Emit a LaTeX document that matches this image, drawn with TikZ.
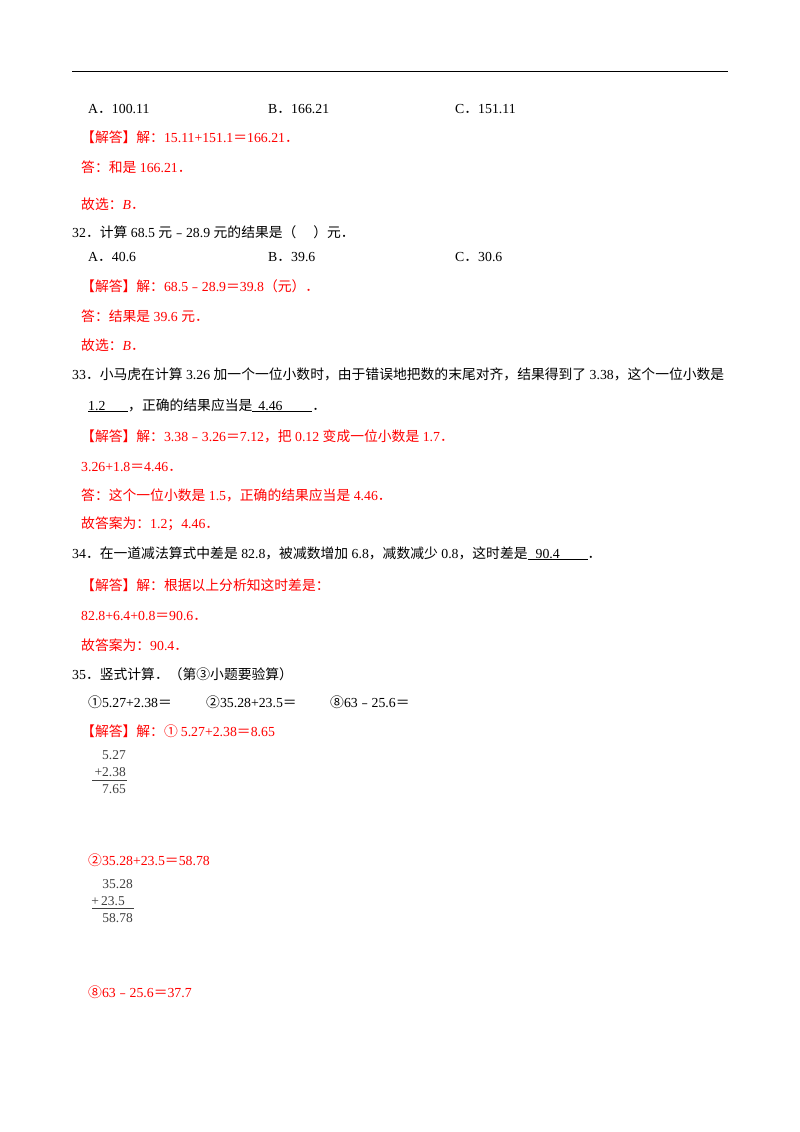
\documentclass[tikz,border=0pt]{standalone}
\usepackage{fontspec}
\setmainfont{Liberation Serif}
\newfontfamily\cjk{Noto Sans CJK SC}
\newcommand{\zh}[1]{{\cjk #1}}
\newcommand{\blank}[2]{\underline{\makebox[#1][l]{#2}}}
\usetikzlibrary{positioning}

\begin{document}
\begin{tikzpicture}[x=1pt,y=-1pt]

\tikzset{
    txt/.style={anchor=base west, inner sep=0pt, font=\fontsize{13.8}{16}\selectfont},
    ans/.style={txt, text=red},
    calc/.style={anchor=base east, inner sep=0pt, font=\fontsize{13.5}{15}\selectfont, text=black!75},
    uline/.style={semithick}
}

\useasboundingbox (0,0) rectangle (800,1132);

% Head rule
\coordinate (hl) at (72,71);
\coordinate (hr) at (728,71);
\draw[thick] (hl) -- (hr);

%%% Question 31 (end) %%%
\node[txt] (q31a) at (88,113) {A\zh{．}100.11};
\node[txt] (q31b) at (268,113) {B\zh{．}166.21};
\node[txt] (q31c) at (455,113) {C\zh{．}151.11};
\node[ans] (a31a) at (81,142) {\zh{【解答】解：}15.11+151.1\zh{＝}166.21\zh{．}};
\node[ans] (a31b) at (81,172) {\zh{答：和是} 166.21\zh{．}};
\node[ans] (a31c) at (81,209) {\zh{故选：}\textit{B}\zh{．}};

%%% Question 32 %%%
\node[txt] (q32) at (72,237) {32\zh{．计算} 68.5 \zh{元﹣}28.9 \zh{元的结果是（\quad\ ）元．}};
\node[txt] (q32a) at (88,261) {A\zh{．}40.6};
\node[txt] (q32b) at (268,261) {B\zh{．}39.6};
\node[txt] (q32c) at (455,261) {C\zh{．}30.6};
\node[ans] (a32a) at (81,291) {\zh{【解答】解：}68.5\zh{﹣}28.9\zh{＝}39.8\zh{（元）．}};
\node[ans] (a32b) at (81,321) {\zh{答：结果是} 39.6 \zh{元．}};
\node[ans] (a32c) at (81,350) {\zh{故选：}\textit{B}\zh{．}};

%%% Question 33 %%%
\node[txt] (q33) at (72,379) {33\zh{．小马虎在计算} 3.26 \zh{加一个一位小数时，由于错误地把数的末尾对齐，结果得到了} 3.38\zh{，这个一位小数是}};
\node[txt] (q33b) at (88,410) {\blank{40pt}{1.2}\zh{，正确的结果应当是}\blank{60pt}{\hspace{6pt}4.46}\zh{．}};
\node[ans] (a33a) at (81,441) {\zh{【解答】解：}3.38\zh{﹣}3.26\zh{＝}7.12\zh{，把} 0.12 \zh{变成一位小数是} 1.7\zh{．}};
\node[ans] (a33b) at (81,471) {3.26+1.8\zh{＝}4.46\zh{．}};
\node[ans] (a33c) at (81,500) {\zh{答：这个一位小数是} 1.5\zh{，正确的结果应当是} 4.46\zh{．}};
\node[ans] (a33d) at (81,528) {\zh{故答案为：}1.2\zh{；}4.46\zh{．}};

%%% Question 34 %%%
\node[txt] (q34) at (72,558) {34\zh{．在一道减法算式中差是} 82.8\zh{，被减数增加} 6.8\zh{，减数减少} 0.8\zh{，这时差是}\blank{60pt}{\hspace{8pt}90.4}\zh{．}};
\node[ans] (a34a) at (81,590) {\zh{【解答】解：根据以上分析知这时差是：}};
\node[ans] (a34b) at (81,620) {82.8+6.4+0.8\zh{＝}90.6\zh{．}};
\node[ans] (a34c) at (81,650) {\zh{故答案为：}90.4\zh{．}};

%%% Question 35 %%%
\node[txt] (q35) at (72,679) {35\zh{．竖式计算．（第③小题要验算）}};
\node[txt] (q35a) at (88,707) {\zh{①}5.27+2.38\zh{＝}};
\node[txt] (q35b) at (206,707) {\zh{②}35.28+23.5\zh{＝}};
\node[txt] (q35c) at (330,707) {\zh{⑧}63\zh{﹣}25.6\zh{＝}};

% Part 1
\node[ans] (a35a) at (81,736) {\zh{【解答】解：① }5.27+2.38\zh{＝}8.65};
\node[calc] (c1a) at (126,759) {5.27};
\node[calc] (c1b) at (126,776) {+2.38};
\node[calc] (c1c) at (126,793) {7.65};
\coordinate (l1l) at (92,780); \coordinate (l1r) at (127,780);
\draw[semithick, black!75] (l1l) -- (l1r);

% Part 2
\node[ans] (a35b) at (88,865) {\zh{②}35.28+23.5\zh{＝}58.78};
\node[calc] (c2a) at (133,888) {35.28};
\node[calc] (c2b) at (125,905) {+\,23.5};
\node[calc] (c2c) at (133,922) {58.78};
\coordinate (l2l) at (92,908); \coordinate (l2r) at (134,908);
\draw[semithick, black!75] (l2l) -- (l2r);

% Part 3
\node[ans] (a35c) at (88,997) {\zh{⑧}63\zh{﹣}25.6\zh{＝}37.7};

\end{tikzpicture}
\end{document}
